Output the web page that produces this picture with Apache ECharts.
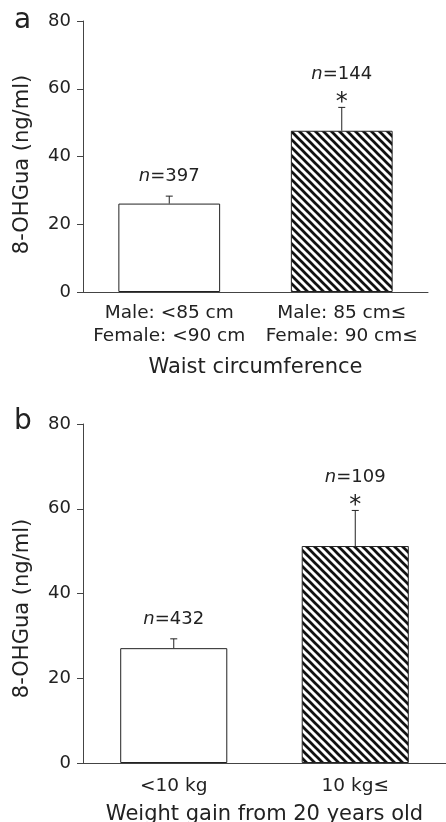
<!DOCTYPE html>
<html lang="en">
  <head>
    <meta charset="UTF-8" />
    <title>8-OHGua</title>
    <style>
      * {
        margin: 0;
        padding: 0;
      }
      html,
      body {
        width: 100%;
        height: 100%;
        background: #fff;
      }
      #chart {
        width: 446px;
        height: 822px;
      }
    </style>
    <script src="https://cdn.jsdelivr.net/npm/echarts@6/dist/echarts.min.js"></script>
  </head>
  <body>
    <div id="chart"></div>
    <script>
      // panel a: waist circumference
      var catsA = ["Male: <85 cm\nFemale: <90 cm", "Male: 85 cm≤\nFemale: 90 cm≤"];
      var meanA = [26.1, 47.6];
      var errA = [2.2, 6.9];
      var nA = ["397", "144"];
      var sigA = [false, true];

      // panel b: weight gain
      var catsB = ["<10 kg", "10 kg≤"];
      var meanB = [27.1, 51.2];
      var errB = [2.2, 8.4];
      var nB = ["432", "109"];
      var sigB = [false, true];

      var yTicks = [0, 20, 40, 60, 80];

      var FONT = "DejaVu Sans";
      var ink = "#222";
      var axisCol = "#444";

      // hatch pattern (\\\)
      var tile = document.createElement("canvas");
      tile.width = 8;
      tile.height = 8;
      var ctx = tile.getContext("2d");
      ctx.fillStyle = "#fff";
      ctx.fillRect(0, 0, 8, 8);
      ctx.strokeStyle = "#111";
      ctx.lineWidth = 2.7;
      for (var k = -1; k <= 1; k++) {
        ctx.beginPath();
        ctx.moveTo(k * 8 - 1, -1);
        ctx.lineTo(k * 8 + 9, 9);
        ctx.stroke();
      }
      var hatch = { image: tile, repeat: "repeat" };

      function barData(means) {
        return means.map(function (v, i) {
          return {
            value: v,
            itemStyle: { color: i === 0 ? "#fff" : hatch },
          };
        });
      }

      // error bar + n label + asterisk
      function errRenderer(means, errs, ns, sigs) {
        return function (params, api) {
          var i = params.dataIndex;
          var base = api.coord([i, means[i]]);
          var top = api.coord([i, means[i] + errs[i]]);
          var kids = [
            {
              type: "line",
              shape: { x1: base[0], y1: base[1], x2: top[0], y2: top[1] },
              style: { stroke: ink, lineWidth: 1 },
            },
            {
              type: "line",
              shape: { x1: top[0] - 3.5, y1: top[1], x2: top[0] + 3.5, y2: top[1] },
              style: { stroke: ink, lineWidth: 1 },
            },
            {
              type: "text",
              style: {
                text: "{i|n}=" + ns[i],
                x: top[0],
                y: top[1] - (sigs[i] ? 33 : 20),
                align: "center",
                verticalAlign: "middle",
                fontFamily: FONT,
                fontSize: 18,
                fill: ink,
                rich: { i: { fontStyle: "italic", fontFamily: FONT, fontSize: 18, fill: ink } },
              },
            },
          ];
          if (sigs[i]) {
            kids.push({
              type: "text",
              style: {
                text: "*",
                x: top[0],
                y: top[1] - 5,
                align: "center",
                verticalAlign: "middle",
                fontFamily: FONT,
                fontSize: 24,
                fill: ink,
              },
            });
          }
          return { type: "group", children: kids };
        };
      }

      function makeX(idx, cats, name, gap, margin) {
        return {
          type: "category",
          gridIndex: idx,
          data: cats,
          name: name,
          nameLocation: "middle",
          nameGap: gap,
          nameTextStyle: { fontFamily: FONT, fontSize: 21, color: ink },
          axisLine: { lineStyle: { color: axisCol, width: 1 } },
          axisTick: { show: false },
          axisLabel: {
            fontFamily: FONT,
            fontSize: 18.5,
            color: ink,
            lineHeight: 23,
            margin: margin,
            interval: 0,
          },
        };
      }

      // shift: pushes the rotated name down the axis by about shift/2 px
      function makeY(idx, shift) {
        return {
          type: "value",
          gridIndex: idx,
          min: yTicks[0],
          max: yTicks[yTicks.length - 1],
          interval: 20,
          name: "8-OHGua (ng/ml)",
          nameLocation: "middle",
          nameGap: 50,
          nameTextStyle: {
            fontFamily: FONT,
            fontSize: 21,
            color: ink,
            padding: [0, shift, 0, 0],
          },
          axisLine: { show: true, lineStyle: { color: axisCol, width: 1 } },
          axisTick: { show: true, length: 6, lineStyle: { color: axisCol } },
          axisLabel: { fontFamily: FONT, fontSize: 18, color: ink, margin: 12 },
          splitLine: { show: false },
        };
      }

      var option = {
        backgroundColor: "#fff",
        animation: false,
        title: [
          {
            text: "a",
            left: 9,
            top: 2,
            textStyle: { fontFamily: FONT, fontSize: 28, fontWeight: "normal", color: ink },
          },
          {
            text: "b",
            left: 9,
            top: 403,
            textStyle: { fontFamily: FONT, fontSize: 28, fontWeight: "normal", color: ink },
          },
        ],
        grid: [
          { left: 83, top: 21, width: 345, height: 271, outerBoundsMode: "none" },
          { left: 83, top: 424, width: 363, height: 339, outerBoundsMode: "none" },
        ],
        xAxis: [
          makeX(0, catsA, "Waist circumference", 65, 10),
          makeX(1, catsB, "Weight gain from 20 years old", 41, 12),
        ],
        yAxis: [makeY(0, 16), makeY(1, 30)],
        series: [
          {
            type: "bar",
            xAxisIndex: 0,
            yAxisIndex: 0,
            barWidth: "59%",
            itemStyle: { borderColor: ink, borderWidth: 1 },
            data: barData(meanA),
            z: 2,
          },
          {
            type: "custom",
            xAxisIndex: 0,
            yAxisIndex: 0,
            renderItem: errRenderer(meanA, errA, nA, sigA),
            data: meanA.map(function (v, i) { return [i, v + errA[i]]; }),
            z: 3,
          },
          {
            type: "bar",
            xAxisIndex: 1,
            yAxisIndex: 1,
            barWidth: "59%",
            itemStyle: { borderColor: ink, borderWidth: 1 },
            data: barData(meanB),
            z: 2,
          },
          {
            type: "custom",
            xAxisIndex: 1,
            yAxisIndex: 1,
            renderItem: errRenderer(meanB, errB, nB, sigB),
            data: meanB.map(function (v, i) { return [i, v + errB[i]]; }),
            z: 3,
          },
        ],
      };

      var myChart = echarts.init(document.getElementById("chart"));
      myChart.setOption(option);
    </script>
  </body>
</html>
